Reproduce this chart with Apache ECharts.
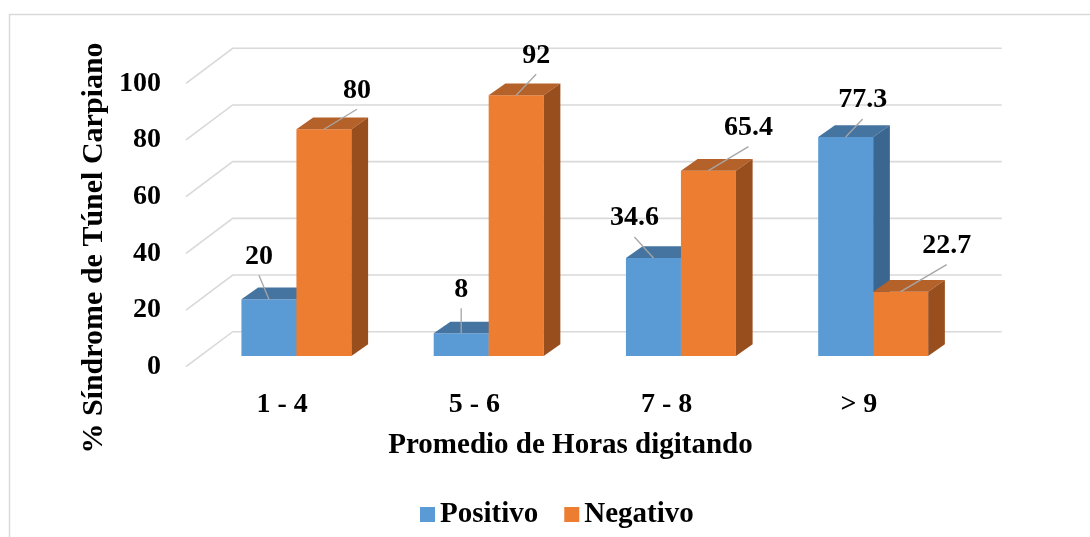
<!DOCTYPE html>
<html>
<head>
<meta charset="utf-8">
<title>Síndrome de Túnel Carpiano</title>
<script src="https://cdn.jsdelivr.net/npm/echarts@6/dist/echarts.min.js"></script>
<style>
  html, body { margin: 0; padding: 0; background: #fff; }
  #main { width: 1090px; height: 537px; }
</style>
</head>
<body>
<div id="main"></div>
<script>
// datos
var categorias = ['1 - 4', '5 - 6', '7 - 8', '> 9'];
var positivo = [20, 8, 34.6, 77.3];
var negativo = [80, 92, 65.4, 22.7];
var yTicks = [0, 20, 40, 60, 80, 100];

var FONT = '"Liberation Serif", "Times New Roman", serif';

// profundidad del "3D" (px)
var FLOOR = { dx: 46.7, dy: -35 };   // frente -> pared del fondo
var FRONT = { dx: 14.3, dy: -10.7 }; // frente -> cara frontal de las barras
var DEPTH = { dx: 16.7, dy: -11.7 }; // grosor de las barras

// posicion de cada etiqueta respecto al centro superior de la barra
var shiftPos = [[-10, -43], [0, -44], [-19, -40], [17, -37]];
var shiftNeg = [[33, -39], [20, -40], [40, -43], [46, -46]];

var colores = {
    pos: { front: '#5B9BD5', top: '#44749F', side: '#3A6690' },
    neg: { front: '#ED7D31', top: '#B5612A', side: '#994E1E' }
};

function barRender(c, left, shifts) {
    return function (params, api) {
        var cat = api.value(0), v = api.value(1);
        var base = api.coord([cat, 0]);
        var top = api.coord([cat, v]);
        var w = api.size([1, 0])[0] * 0.286;
        var x0 = base[0] + FRONT.dx - (left ? w : 0);
        var x1 = x0 + w;
        var yb = base[1] + FRONT.dy;
        var yt = top[1] + FRONT.dy;
        var cx = (x0 + x1) / 2;
        var s = shifts[params.dataIndex];
        var lx = cx + s[0], ly = yt + s[1];
        return {
            type: 'group',
            children: [
                { type: 'rect', shape: { x: x0, y: yt, width: w, height: yb - yt }, style: { fill: c.front } },
                { type: 'polygon', shape: { points: [[x0, yt], [x1, yt], [x1 + DEPTH.dx, yt + DEPTH.dy], [x0 + DEPTH.dx, yt + DEPTH.dy]] }, style: { fill: c.top } },
                { type: 'polygon', shape: { points: [[x1, yt], [x1 + DEPTH.dx, yt + DEPTH.dy], [x1 + DEPTH.dx, yb + DEPTH.dy], [x1, yb]] }, style: { fill: c.side } },
                { type: 'line', shape: { x1: lx, y1: ly + 19, x2: cx, y2: yt }, style: { stroke: '#A6A6A6', lineWidth: 1.3 } },
                { type: 'text', x: lx, y: ly, style: { text: String(v), fill: '#000', fontSize: 28, fontWeight: 'bold', fontFamily: FONT, align: 'center', verticalAlign: 'middle' } }
            ]
        };
    };
}

var chart = echarts.init(document.getElementById('main'));

chart.setOption({
    backgroundColor: '#fff',
    animation: false,
    grid: { left: 186, right: 135, top: 83.3, bottom: 170.3 },
    legend: {
        data: ['Positivo', 'Negativo'],
        left: 415, top: 495,
        icon: 'rect', itemWidth: 15, itemHeight: 15, itemGap: 26,
        textStyle: { fontSize: 29, fontWeight: 'bold', fontFamily: FONT, color: '#000' }
    },
    xAxis: {
        type: 'category',
        data: categorias,
        axisLine: { show: false },
        axisTick: { show: false },
        axisLabel: { margin: 24, fontSize: 28, fontWeight: 'bold', fontFamily: FONT, color: '#000' },
        name: 'Promedio de Horas digitando',
        nameLocation: 'middle',
        nameGap: 64,
        nameTextStyle: { fontSize: 29, fontWeight: 'bold', fontFamily: FONT, color: '#000' }
    },
    yAxis: {
        type: 'value',
        min: 0, max: 100, interval: 20,
        splitLine: { show: false },
        axisLine: { show: false },
        axisTick: { show: false },
        axisLabel: { margin: 25, fontSize: 28, fontWeight: 'bold', fontFamily: FONT, color: '#000' }
    },
    graphic: [
        { type: 'rect', shape: { x: 9.5, y: 14.5, width: 1200, height: 700 }, style: { fill: null, stroke: '#D9D9D9', lineWidth: 1.5 }, silent: true },
        { type: 'text', x: 94, y: 248, rotation: Math.PI / 2,
          style: { text: '% Síndrome de Túnel Carpiano', fill: '#000', fontSize: 30, fontWeight: 'bold', fontFamily: FONT, align: 'center', verticalAlign: 'middle' } }
    ],
    series: [
        {
            name: 'grid3d',
            type: 'custom',
            z: 1,
            silent: true,
            data: yTicks.map(function (t) { return [0, t]; }),
            renderItem: function (params, api) {
                var cs = params.coordSys;
                var y = api.coord([0, api.value(1)])[1];
                return {
                    type: 'polyline',
                    shape: { points: [[cs.x, y], [cs.x + FLOOR.dx, y + FLOOR.dy], [cs.x + cs.width + FLOOR.dx, y + FLOOR.dy]] },
                    style: { stroke: '#D9D9D9', lineWidth: 1.6, fill: null }
                };
            }
        },
        {
            name: 'Positivo',
            type: 'custom',
            z: 2,
            itemStyle: { color: colores.pos.front },
            data: positivo.map(function (v, i) { return [i, v]; }),
            renderItem: barRender(colores.pos, true, shiftPos)
        },
        {
            name: 'Negativo',
            type: 'custom',
            z: 3,
            itemStyle: { color: colores.neg.front },
            data: negativo.map(function (v, i) { return [i, v]; }),
            renderItem: barRender(colores.neg, false, shiftNeg)
        }
    ]
});
</script>
</body>
</html>
